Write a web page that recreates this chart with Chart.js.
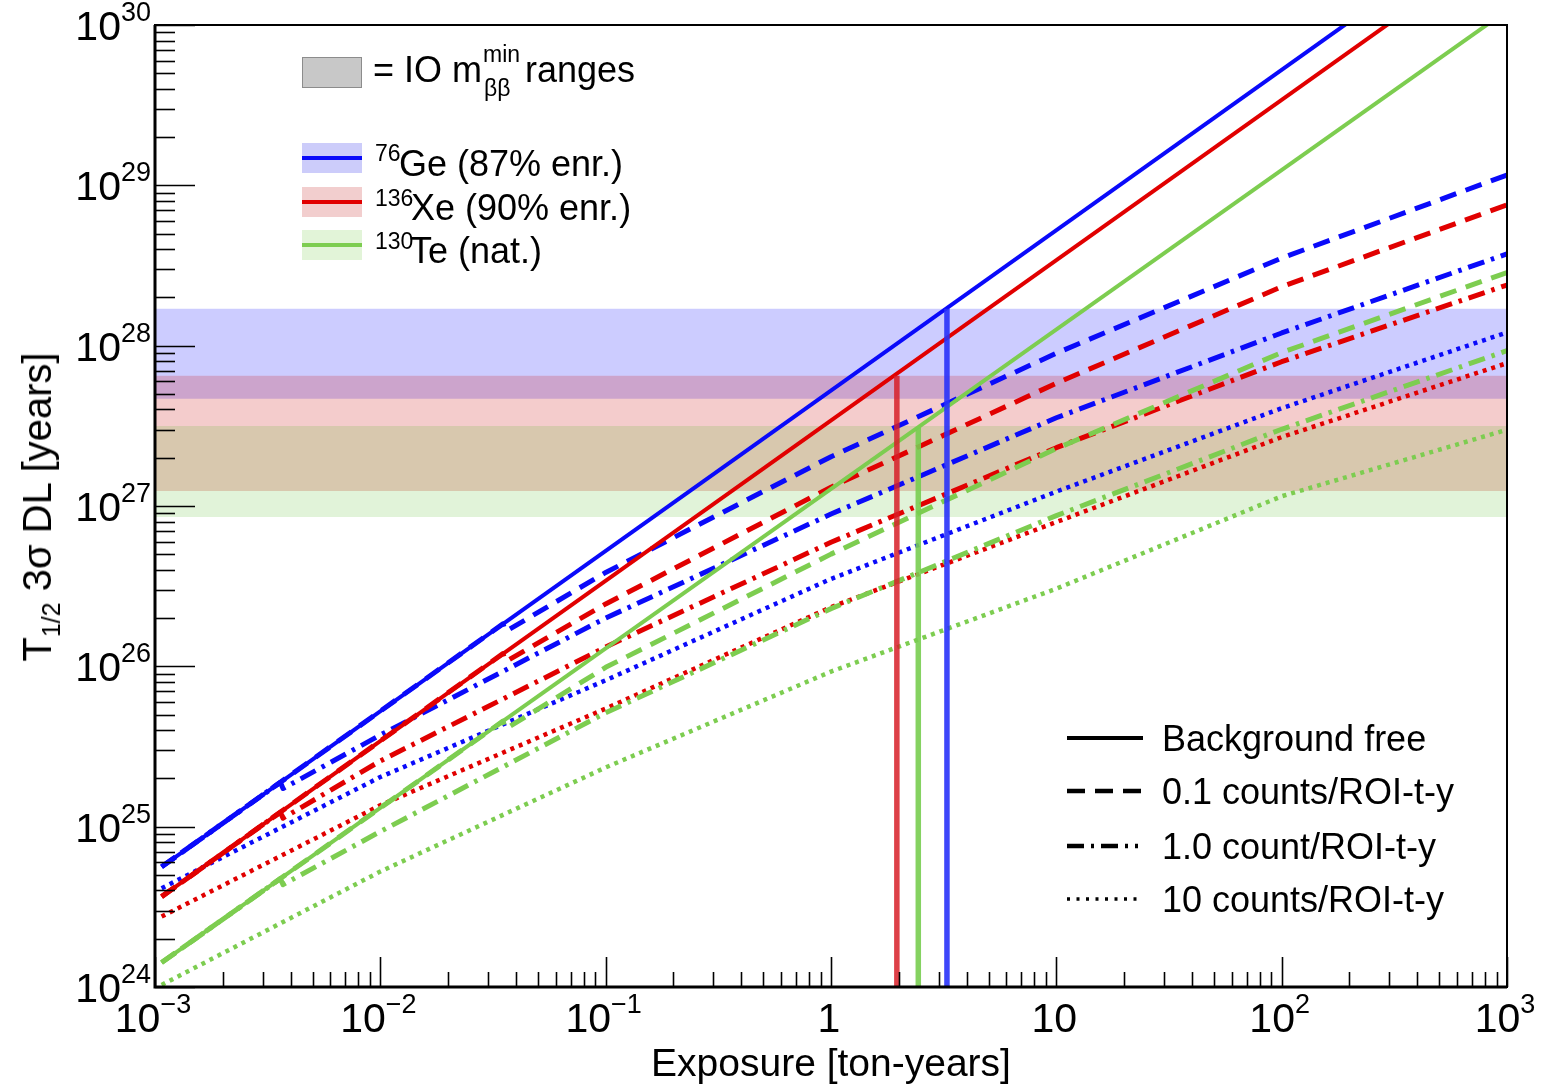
<!DOCTYPE html>
<html><head><meta charset="utf-8">
<script src="https://cdn.jsdelivr.net/npm/chart.js@4.4.1/dist/chart.umd.min.js"></script>
<style>
html,body{margin:0;padding:0;background:#fff;}
#wrap{position:relative;width:1541px;height:1090px;font-family:"Liberation Sans",Arial,Helvetica,sans-serif;color:#000;overflow:hidden;}
#c{position:absolute;left:0;top:0;}
.t{position:absolute;white-space:nowrap;line-height:1;font-size:36px;}
.s{font-size:23px;}
.box{position:absolute;}
</style></head><body>
<div id="wrap">
<canvas id="c" width="1541" height="1090"></canvas>

<!-- y axis title -->
<div class="t" id="ytitle" style="left:37px;top:507px;font-size:40px;transform:translate(-50%,-50%) rotate(-90deg);">T<span style="font-size:25px;position:relative;top:9px;">1/2</span> 3σ DL [years]</div>

<!-- isotope legend -->
<div class="box" style="left:302px;top:57px;width:58px;height:29px;background:#c8c8c8;border:1px solid #8c8c8c;"></div>
<div class="t" style="left:373px;top:52px;">= IO m</div>
<div class="t s" style="left:483px;top:43px;">min</div>
<div class="t s" style="left:484px;top:77px;">ββ</div>
<div class="t" style="left:525px;top:52px;">ranges</div>

<div class="box" style="left:302px;top:143px;width:60px;height:30px;background:rgb(204,204,250);"></div>
<div class="box" style="left:302px;top:156px;width:60px;height:4px;background:rgb(10,10,250);"></div>
<div class="t s" style="left:375px;top:142px;">76</div>
<div class="t" style="left:399px;top:146px;">Ge (87% enr.)</div>

<div class="box" style="left:302px;top:187px;width:60px;height:30px;background:rgb(242,206,206);"></div>
<div class="box" style="left:302px;top:200px;width:60px;height:4px;background:rgb(225,0,0);"></div>
<div class="t s" style="left:375px;top:187px;">136</div>
<div class="t" style="left:411px;top:190px;">Xe (90% enr.)</div>

<div class="box" style="left:302px;top:230px;width:60px;height:30px;background:rgb(226,244,216);"></div>
<div class="box" style="left:302px;top:243px;width:60px;height:4px;background:rgb(125,205,80);"></div>
<div class="t s" style="left:375px;top:230px;">130</div>
<div class="t" style="left:410px;top:233px;">Te (nat.)</div>

<!-- background legend -->
<svg class="box" style="left:1067px;top:734px;" width="78" height="8"><line x1="0" y1="4" x2="76" y2="4" stroke="#000" stroke-width="4"/></svg>
<div class="t" style="left:1162px;top:721px;">Background free</div>
<svg class="box" style="left:1067px;top:787px;" width="78" height="8"><line x1="0" y1="4" x2="76" y2="4" stroke="#000" stroke-width="4.5" stroke-dasharray="18 10"/></svg>
<div class="t" style="left:1162px;top:774px;">0.1 counts/ROI-t-y</div>
<svg class="box" style="left:1067px;top:842px;" width="78" height="8"><line x1="0" y1="4" x2="76" y2="4" stroke="#000" stroke-width="4.5" stroke-dasharray="17 7 3 7 17 7 3 7 3 7"/></svg>
<div class="t" style="left:1162px;top:829px;">1.0 count/ROI-t-y</div>
<svg class="box" style="left:1067px;top:895px;" width="78" height="8"><line x1="0" y1="4" x2="76" y2="4" stroke="#000" stroke-width="3.5" stroke-dasharray="3 6.5"/></svg>
<div class="t" style="left:1162px;top:882px;">10 counts/ROI-t-y</div>
</div>

<script>
// ---------------- data ----------------
const isotopes = ['76Ge', '136Xe', '130Te'];

// background free
const expBF = [0.00107, 1000];
const geBF = [5.62e24, 5.25e30];
const xeBF = [3.66e24, 3.41e30];
const teBF = [1.42e24, 1.23e30];

// 0.1 counts/ROI-t-y
const expDashed = [0.00107, 0.035, 0.036, 0.1, 1, 10, 100, 1000];
const geDashed = [5.62e24, 1.84e26, 1.65e26, 3.85e26, 2.03e27, 8.97e27, 3.52e28, 1.16e29];
const xeDashed = [3.66e24, 1.20e26, 1.07e26, 2.45e26, 1.31e27, 5.83e27, 2.33e28, 7.55e28];
const teDashed = [1.42e24, 4.55e25, 4.07e25, 9.86e25, 5.01e26, 2.28e27, 9.06e27, 2.86e28];

// 1.0 count/ROI-t-y
const expDashDot = [0.00107, 0.0036, 0.0037, 0.01, 0.1, 1, 10, 100, 1000];
const geDashDot = [5.62e24, 1.89e25, 1.73e25, 3.73e25, 2.00e26, 8.91e26, 3.55e27, 1.20e28, 3.74e28];
const xeDashDot = [3.66e24, 1.23e25, 1.13e25, 2.57e25, 1.32e26, 5.94e26, 2.31e27, 7.94e27, 2.39e28];
const teDashDot = [1.42e24, 4.74e24, 4.35e24, 9.33e24, 5.13e25, 2.29e26, 8.71e26, 3.01e27, 9.31e27];

// 10 counts/ROI-t-y
const expDotted = [0.00107, 0.01, 0.1, 1, 10, 100, 1000];
const geDotted = [4.13e24, 2.04e25, 8.18e25, 3.51e26, 1.23e27, 4.07e27, 1.21e28];
const xeDotted = [2.75e24, 1.36e25, 5.45e25, 2.34e26, 7.94e26, 2.69e27, 7.78e27];
const teDotted = [1.03e24, 5.25e24, 2.34e25, 9.27e25, 3.05e26, 1.15e27, 2.99e27];

// IO m_bb^min ranges (half-life bands) for Ge, Xe, Te
const bandLow = [4.66e27, 1.24e27, 8.55e26];
const bandHigh = [1.70e28, 6.5e27, 3.16e27];
// exposure needed to reach the top of each band (background free)
const vlineExposure = [3.27, 1.96, 2.44];
const vlineTop = [1.70e28, 6.5e27, 3.1e27];

// ticks (label = base + superscript exponent)
const xMajorTicks = [1e-3, 1e-2, 1e-1, 1, 10, 100, 1000];
const xTickBase = ['10', '10', '10', '1', '10', '10', '10'];
const xTickExp = ['\u22123', '\u22122', '\u22121', '', '', '2', '3'];
const yMajorTicks = [1e24, 1e25, 1e26, 1e27, 1e28, 1e29, 1e30];
const yTickBase = ['10', '10', '10', '10', '10', '10', '10'];
const yTickExp = ['24', '25', '26', '27', '28', '29', '30'];

// ---------------- styling ----------------
const FONT = '"Liberation Sans", Arial, Helvetica, sans-serif';
const isoColors = ['rgb(10,10,250)', 'rgb(225,0,0)', 'rgb(125,205,80)'];
const bandColors = ['rgba(0,0,255,0.2)', 'rgba(200,0,0,0.2)', 'rgba(55,175,0,0.15)'];
const vlineColors = ['rgba(40,50,250,0.9)', 'rgba(215,30,40,0.85)', 'rgba(120,205,80,0.9)'];

function minorTicks(majors) {
  const out = [];
  majors.forEach((m, i) => {
    out.push(m);
    if (i < majors.length - 1) for (let k = 2; k <= 9; k++) out.push(k * m);
  });
  return out;
}
const xTickValues = minorTicks(xMajorTicks);
const yTickValues = minorTicks(yMajorTicks);

function pts(xs, ys) { return xs.map((x, i) => ({x: x, y: ys[i]})); }

const datasets = [];
bandLow.forEach((lo, i) => {
  datasets.push({
    label: isotopes[i] + ' band',
    data: [{x: 1e-3, y: bandHigh[i]}, {x: 1e3, y: bandHigh[i]}],
    borderWidth: 0, pointRadius: 0, borderColor: 'rgba(0,0,0,0)',
    backgroundColor: bandColors[i],
    fill: {value: lo},
    order: 100 - i
  });
});
const curveSets = [
  [expBF, [geBF, xeBF, teBF], [], 4],
  [expDashed, [geDashed, xeDashed, teDashed], [17, 10], 5],
  [expDashDot, [geDashDot, xeDashDot, teDashDot], [17, 7, 3.5, 7], 5],
  [expDotted, [geDotted, xeDotted, teDotted], [4, 5], 4.5]
];
curveSets.forEach(([xs, series, dash, w], k) => {
  series.forEach((ys, i) => {
    datasets.push({
      label: isotopes[i] + ' ' + k,
      data: pts(xs, ys),
      borderColor: isoColors[i],
      borderWidth: w,
      borderDash: dash,
      borderCapStyle: 'butt',
      borderJoinStyle: 'round',
      pointRadius: 0,
      fill: false,
      tension: 0,
      order: 20 + k
    });
  });
});
vlineExposure.forEach((e, i) => {
  datasets.push({
    label: isotopes[i] + ' exposure',
    data: [{x: e, y: 1e24}, {x: e, y: vlineTop[i]}],
    borderColor: vlineColors[i],
    borderWidth: 5.5,
    borderCapStyle: 'butt',
    pointRadius: 0,
    fill: false,
    order: 5
  });
});

function drawPowLabel(ctx, base, exp, x, y, align, baseSize, expSize) {
  ctx.font = baseSize + 'px ' + FONT;
  const wb = ctx.measureText(base).width;
  ctx.font = expSize + 'px ' + FONT;
  const we = exp ? ctx.measureText(exp).width : 0;
  const total = wb + we;
  let x0 = align === 'right' ? x - total : x - total / 2;
  ctx.textAlign = 'left';
  ctx.textBaseline = 'alphabetic';
  ctx.font = baseSize + 'px ' + FONT;
  ctx.fillText(base, x0, y);
  if (exp) {
    ctx.font = expSize + 'px ' + FONT;
    ctx.fillText(exp, x0 + wb, y - baseSize * 0.46);
  }
}

const frameTicks = {
  id: 'frameTicks',
  afterDatasetsDraw(chart) {
    const {ctx, chartArea: a, scales: {x, y}} = chart;
    ctx.save();
    ctx.strokeStyle = '#000';
    ctx.lineWidth = 1.6;
    yTickValues.forEach(v => {
      const py = Math.round(y.getPixelForValue(v)) + 0.5;
      const len = yMajorTicks.includes(v) ? 40 : 20;
      ctx.beginPath(); ctx.moveTo(a.left, py); ctx.lineTo(a.left + len, py); ctx.stroke();
    });
    xTickValues.forEach(v => {
      const px = Math.round(x.getPixelForValue(v)) + 0.5;
      const len = xMajorTicks.includes(v) ? 30 : 15;
      ctx.beginPath(); ctx.moveTo(px, a.bottom); ctx.lineTo(px, a.bottom - len); ctx.stroke();
    });
    ctx.lineWidth = 2;
    ctx.strokeRect(a.left, a.top, a.right - a.left, a.bottom - a.top);
    ctx.lineWidth = 3;
    ctx.beginPath(); ctx.moveTo(a.left, a.top); ctx.lineTo(a.left, a.bottom); ctx.lineTo(a.right, a.bottom); ctx.stroke();
    // tick labels
    ctx.fillStyle = '#000';
    yMajorTicks.forEach((v, i) => {
      const py = y.getPixelForValue(v);
      drawPowLabel(ctx, yTickBase[i], yTickExp[i], a.left - 4, py + 15, 'right', 41, 27);
    });
    xMajorTicks.forEach((v, i) => {
      const px = x.getPixelForValue(v);
      drawPowLabel(ctx, xTickBase[i], xTickExp[i], px - 2, a.bottom + 45, 'center', 41, 27);
    });
    ctx.restore();
  }
};

new Chart(document.getElementById('c'), {
  type: 'line',
  data: {datasets: datasets},
  options: {
    responsive: false,
    animation: false,
    devicePixelRatio: 1,
    layout: {padding: {left: 0, right: 34, top: 25, bottom: 0}},
    plugins: {legend: {display: false}, tooltip: {enabled: false}},
    scales: {
      x: {
        type: 'logarithmic', min: 1e-3, max: 1e3,
        grid: {display: false, drawTicks: false},
        border: {display: false},
        afterBuildTicks: s => { s.ticks = xTickValues.map(v => ({value: v})); },
        afterFit: s => { s.height = 103; },
        ticks: {display: false},
        title: {display: true, text: 'Exposure [ton-years]', color: '#000',
          font: {family: FONT, size: 39}, padding: {top: 0, bottom: 1}}
      },
      y: {
        type: 'logarithmic', min: 1e24, max: 1e30,
        grid: {display: false, drawTicks: false},
        border: {display: false},
        afterBuildTicks: s => { s.ticks = yTickValues.map(v => ({value: v})); },
        afterFit: s => { s.width = 155; },
        ticks: {display: false}
      }
    }
  },
  plugins: [frameTicks]
});
</script>
</body></html>
